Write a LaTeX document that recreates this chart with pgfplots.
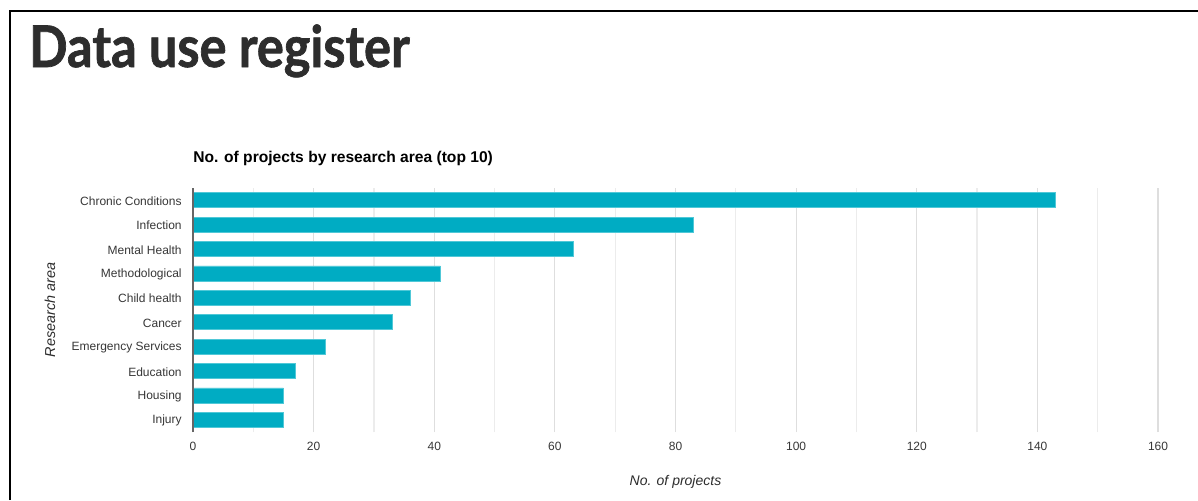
\documentclass[border=0pt]{standalone}
\usepackage{fontspec}
\setmainfont{Liberation Sans}
\newfontfamily\titlefont{Lato}[FakeStretch=0.88,FakeBold=1.2]
\usepackage{pgfplots}
\pgfplotsset{compat=1.18}
\definecolor{barcol}{RGB}{0,172,195}
\definecolor{baredge}{RGB}{80,200,215}
\definecolor{gridc}{RGB}{222,222,222}
\definecolor{gridm}{RGB}{236,236,236}
\definecolor{tickc}{RGB}{55,55,55}
\definecolor{titlec}{RGB}{45,45,45}
\begin{document}
\begin{tikzpicture}
\begin{scope}[x=0.75pt,y=-0.75pt]
\path[use as bounding box] (0,0) rectangle (1198,500);
\fill[white] (0,0) rectangle (1198,500);
\draw[black,line width=1.5pt] (10,500) -- (10,11) -- (1198,11);
\node[anchor=base west,inner sep=0pt,text=titlec,font=\titlefont\bfseries\fontsize{43}{50}\selectfont] at (29,67) {Data use register};
\node[anchor=base west,inner sep=0pt,font=\bfseries\fontsize{11.7}{13}\selectfont] at (193,162) {No. of projects by research area (top 10)};
\end{scope}
\begin{axis}[
  at={(144.75pt,-324pt)}, anchor=south west,
  scale only axis,
  width=723.75pt, height=183pt,
  xbar, bar width=11.25pt,
  xmin=0, xmax=160,
  ymin=-0.5, ymax=9.5,
  xtick={0,20,...,160},
  minor xtick={10,30,...,150},
  ytick={0,...,9},
  yticklabels={Injury,Housing,Education,Emergency Services,Cancer,Child health,Methodological,Mental Health,Infection,Chronic Conditions},
  xmajorgrids, xminorgrids,
  major grid style={gridc,line width=0.9pt},
  minor grid style={gridm,line width=0.9pt},
  major tick length=0pt, minor tick length=0pt,
  axis line style={draw=none},
  /pgf/number format/assume math mode=true,
  ticklabel style={font=\fontsize{9}{11}\selectfont, text=tickc},
  xticklabel style={yshift=-3.8pt},
  yticklabel style={xshift=-5pt, yshift=-0.6pt},
  xlabel={No. of projects},
  label style={font=\itshape\fontsize{10.5}{12}\selectfont, text=titlec},
  xlabel style={at={(axis description cs:0.5,0)}, anchor=center, yshift=-37.2pt},
  clip=false,
]
\addplot[fill=barcol, draw=baredge, line width=0.4pt] coordinates {
(15,0) (15,1) (17,2) (22,3) (33,4) (36,5) (41,6) (63,7) (83,8) (143,9)
};
\draw[black!60, line width=1.2pt] (axis cs:0,-0.5) -- (axis cs:0,9.5);
\node[rotate=90, anchor=center, font=\itshape\fontsize{10.8}{12}\selectfont, text=titlec] at (axis description cs:-0.1482,0.5) {Research area};
\end{axis}
\end{tikzpicture}
\end{document}
